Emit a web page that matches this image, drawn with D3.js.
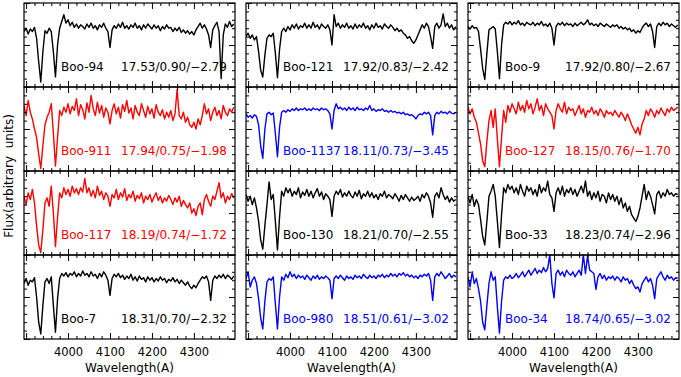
<!DOCTYPE html>
<html>
<head>
<meta charset="utf-8">
<script src="https://cdn.jsdelivr.net/npm/d3@7/dist/d3.min.js"></script>
<style>
  body { margin: 0; background: #fff; }
  text { font-family: "DejaVu Sans", sans-serif; }
</style>
</head>
<body>
<svg id="chart" width="681" height="377"></svg>
<script>
// wavelength grid (A), shared by every spectrum
var wave = [3895,3900,3905,3910,3915,3920,3925,3930,3935,3940,
  3945,3950,3955,3960,3965,3970,3975,3980,3985,3990,
  3995,4000,4005,4010,4015,4020,4025,4030,4035,4040,
  4045,4050,4055,4060,4065,4070,4075,4080,4085,4090,
  4095,4100,4105,4110,4115,4120,4125,4130,4135,4140,
  4145,4150,4155,4160,4165,4170,4175,4180,4185,4190,
  4195,4200,4205,4210,4215,4220,4225,4230,4235,4240,
  4245,4250,4255,4260,4265,4270,4275,4280,4285,4290,
  4295,4300,4305,4310,4315,4320,4325,4330,4335,4340,
  4345,4350,4355,4360,4365,4370,4375,4380,4385,4390,4395];

// star names and V / (B-V) / [Fe/H], column by column
var names = ["Boo-94", "Boo-911", "Boo-117", "Boo-7",
             "Boo-121", "Boo-1137", "Boo-130", "Boo-980",
             "Boo-9", "Boo-127", "Boo-33", "Boo-34"];
var params = ["17.53/0.90/\u22122.79", "17.94/0.75/\u22121.98", "18.19/0.74/\u22121.72", "18.31/0.70/\u22122.32",
              "17.92/0.83/\u22122.42", "18.11/0.73/\u22123.45", "18.21/0.70/\u22122.55", "18.51/0.61/\u22123.02",
              "17.92/0.80/\u22122.67", "18.15/0.76/\u22121.70", "18.23/0.74/\u22122.96", "18.74/0.65/\u22123.02"];

// normalised flux, one value per wavelength
var flux94 = [0.66,0.70,0.63,0.69,0.66,0.71,0.58,0.30,0.06,0.42,
  0.67,0.64,0.70,0.66,0.42,0.12,0.50,0.70,0.78,0.86,
  0.76,0.80,0.73,0.77,0.71,0.75,0.70,0.74,0.72,0.69,
  0.75,0.71,0.76,0.70,0.73,0.68,0.74,0.71,0.76,0.70,
  0.66,0.47,0.68,0.73,0.70,0.75,0.71,0.77,0.70,0.73,
  0.69,0.74,0.71,0.76,0.70,0.73,0.68,0.74,0.70,0.75,
  0.72,0.69,0.74,0.70,0.73,0.67,0.72,0.69,0.74,0.70,
  0.71,0.66,0.70,0.67,0.71,0.65,0.68,0.64,0.67,0.63,
  0.66,0.62,0.68,0.72,0.76,0.70,0.74,0.69,0.62,0.47,
  0.68,0.73,0.77,0.66,0.10,0.62,0.75,0.71,0.78,0.72,0.75];
var flux911 = [0.78,0.66,0.84,0.70,0.62,0.50,0.40,0.20,0.03,0.30,
  0.55,0.64,0.70,0.80,0.45,0.06,0.40,0.72,0.66,0.76,
  0.70,0.80,0.68,0.77,0.72,0.86,0.66,0.79,0.73,0.62,
  0.81,0.70,0.90,0.74,0.66,0.82,0.69,0.78,0.64,0.75,
  0.70,0.56,0.72,0.80,0.68,0.76,0.63,0.79,0.71,0.84,
  0.69,0.75,0.62,0.78,0.70,0.66,0.80,0.72,0.64,0.77,
  0.68,0.74,0.63,0.79,0.70,0.66,0.73,0.62,0.70,0.64,
  0.72,0.60,0.68,0.97,0.66,0.62,0.70,0.58,0.64,0.55,
  0.52,0.58,0.50,0.62,0.55,0.66,0.80,0.68,0.74,0.60,
  0.70,0.76,0.66,0.72,0.62,0.78,0.70,0.66,0.74,0.70,0.76];
var flux117 = [0.70,0.60,0.74,0.66,0.78,0.62,0.35,0.12,0.03,0.30,
  0.62,0.68,0.58,0.82,0.50,0.10,0.45,0.74,0.68,0.80,
  0.72,0.78,0.70,0.82,0.74,0.79,0.72,0.80,0.75,0.91,
  0.74,0.80,0.70,0.77,0.68,0.82,0.71,0.76,0.66,0.74,
  0.70,0.58,0.72,0.68,0.78,0.66,0.74,0.69,0.79,0.65,
  0.72,0.68,0.76,0.64,0.71,0.67,0.74,0.62,0.70,0.66,
  0.72,0.63,0.69,0.74,0.65,0.70,0.62,0.68,0.64,0.71,
  0.66,0.60,0.68,0.63,0.70,0.58,0.65,0.60,0.56,0.62,
  0.50,0.55,0.47,0.58,0.62,0.48,0.66,0.72,0.64,0.58,
  0.70,0.66,0.76,0.86,0.68,0.74,0.62,0.70,0.66,0.73,0.68];
var flux7 = [0.66,0.72,0.64,0.70,0.68,0.73,0.50,0.20,0.06,0.40,
  0.68,0.72,0.66,0.74,0.40,0.08,0.48,0.72,0.78,0.75,
  0.79,0.74,0.78,0.76,0.80,0.74,0.78,0.75,0.81,0.76,
  0.78,0.74,0.80,0.75,0.77,0.72,0.78,0.74,0.80,0.76,
  0.70,0.52,0.72,0.77,0.74,0.78,0.73,0.76,0.71,0.75,
  0.72,0.77,0.70,0.74,0.69,0.75,0.71,0.73,0.68,0.74,
  0.70,0.73,0.68,0.72,0.69,0.74,0.70,0.72,0.67,0.71,
  0.69,0.73,0.68,0.71,0.66,0.70,0.67,0.64,0.68,0.63,
  0.60,0.64,0.61,0.66,0.70,0.74,0.72,0.75,0.68,0.46,
  0.70,0.75,0.72,0.76,0.73,0.77,0.72,0.76,0.74,0.71,0.75];
var flux121 = [0.60,0.64,0.58,0.62,0.56,0.60,0.42,0.20,0.12,0.38,
  0.58,0.62,0.60,0.64,0.40,0.11,0.45,0.66,0.70,0.66,
  0.72,0.68,0.74,0.70,0.75,0.69,0.73,0.71,0.76,0.70,
  0.74,0.70,0.77,0.71,0.74,0.69,0.75,0.72,0.70,0.74,
  0.68,0.50,0.86,0.72,0.76,0.70,0.74,0.71,0.76,0.70,
  0.73,0.69,0.75,0.70,0.74,0.71,0.76,0.70,0.73,0.68,
  0.74,0.70,0.76,0.71,0.73,0.69,0.75,0.72,0.70,0.74,
  0.71,0.67,0.70,0.66,0.68,0.64,0.62,0.58,0.60,0.55,
  0.52,0.56,0.62,0.68,0.74,0.70,0.76,0.72,0.60,0.46,
  0.72,0.76,0.70,0.74,0.87,0.72,0.76,0.70,0.74,0.68,0.72];
var flux1137 = [0.68,0.64,0.66,0.63,0.67,0.65,0.55,0.30,0.15,0.50,
  0.68,0.70,0.67,0.69,0.45,0.17,0.52,0.70,0.72,0.70,
  0.73,0.71,0.74,0.72,0.75,0.72,0.74,0.73,0.75,0.72,
  0.74,0.72,0.75,0.73,0.74,0.72,0.75,0.73,0.74,0.72,
  0.68,0.50,0.72,0.80,0.74,0.76,0.73,0.75,0.72,0.76,
  0.73,0.75,0.72,0.76,0.73,0.74,0.72,0.75,0.73,0.78,
  0.72,0.74,0.71,0.73,0.72,0.74,0.71,0.72,0.70,0.72,
  0.70,0.71,0.69,0.70,0.68,0.70,0.67,0.68,0.66,0.67,
  0.65,0.62,0.66,0.68,0.67,0.70,0.68,0.70,0.66,0.43,
  0.66,0.70,0.68,0.71,0.69,0.70,0.68,0.71,0.69,0.68,0.70];
var flux130 = [0.72,0.64,0.70,0.60,0.68,0.56,0.40,0.18,0.07,0.35,
  0.60,0.87,0.66,0.72,0.40,0.06,0.45,0.76,0.70,0.80,
  0.74,0.79,0.70,0.76,0.72,0.80,0.68,0.75,0.71,0.78,
  0.70,0.76,0.68,0.74,0.79,0.70,0.75,0.66,0.73,0.70,
  0.66,0.46,0.70,0.76,0.72,0.78,0.69,0.74,0.70,0.76,
  0.71,0.68,0.75,0.70,0.77,0.67,0.73,0.70,0.76,0.69,
  0.74,0.68,0.72,0.66,0.73,0.70,0.76,0.68,0.72,0.70,
  0.67,0.73,0.69,0.64,0.71,0.66,0.72,0.68,0.64,0.69,
  0.65,0.67,0.70,0.64,0.72,0.68,0.74,0.70,0.62,0.45,
  0.70,0.74,0.68,0.80,0.72,0.66,0.70,0.63,0.68,0.64,0.66];
var flux980 = [0.72,0.80,0.62,0.70,0.74,0.66,0.48,0.25,0.12,0.45,
  0.68,0.72,0.70,0.74,0.42,0.12,0.50,0.74,0.70,0.77,
  0.73,0.80,0.74,0.77,0.72,0.76,0.73,0.75,0.71,0.76,
  0.73,0.70,0.75,0.72,0.76,0.71,0.74,0.72,0.75,0.73,
  0.70,0.48,0.72,0.75,0.72,0.76,0.73,0.70,0.75,0.72,
  0.74,0.71,0.76,0.73,0.75,0.72,0.77,0.74,0.72,0.76,
  0.73,0.75,0.72,0.76,0.74,0.77,0.73,0.76,0.74,0.78,
  0.75,0.77,0.74,0.78,0.76,0.79,0.75,0.77,0.74,0.76,
  0.73,0.75,0.72,0.76,0.74,0.77,0.75,0.78,0.70,0.46,
  0.74,0.78,0.75,0.80,0.76,0.72,0.75,0.78,0.73,0.76,0.74];
var flux9 = [0.72,0.69,0.73,0.70,0.71,0.66,0.45,0.22,0.09,0.40,
  0.68,0.70,0.72,0.69,0.42,0.10,0.50,0.74,0.77,0.75,
  0.78,0.74,0.77,0.75,0.79,0.74,0.76,0.73,0.77,0.75,
  0.74,0.77,0.73,0.76,0.74,0.78,0.73,0.75,0.72,0.76,
  0.70,0.50,0.72,0.76,0.74,0.77,0.73,0.76,0.74,0.75,
  0.72,0.76,0.73,0.75,0.77,0.74,0.76,0.80,0.74,0.76,
  0.73,0.75,0.72,0.76,0.74,0.72,0.75,0.73,0.71,0.74,
  0.72,0.74,0.70,0.72,0.69,0.71,0.68,0.70,0.66,0.68,
  0.64,0.67,0.65,0.70,0.74,0.76,0.72,0.75,0.66,0.47,
  0.72,0.76,0.73,0.77,0.74,0.76,0.72,0.75,0.73,0.71,0.74];
var flux127 = [0.76,0.68,0.74,0.64,0.58,0.45,0.32,0.12,0.05,0.35,
  0.60,0.72,0.52,0.74,0.38,0.05,0.40,0.72,0.58,0.78,
  0.70,0.80,0.74,0.68,0.82,0.72,0.78,0.70,0.84,0.74,
  0.80,0.68,0.76,0.86,0.72,0.78,0.66,0.80,0.74,0.70,
  0.66,0.50,0.72,0.80,0.74,0.70,0.82,0.68,0.76,0.72,
  0.74,0.66,0.72,0.78,0.68,0.74,0.64,0.72,0.70,0.76,
  0.68,0.72,0.66,0.74,0.70,0.64,0.72,0.68,0.70,0.66,
  0.72,0.68,0.64,0.70,0.66,0.60,0.68,0.62,0.55,0.50,
  0.45,0.52,0.43,0.56,0.62,0.72,0.66,0.74,0.70,0.64,
  0.72,0.68,0.75,0.70,0.66,0.74,0.70,0.76,0.72,0.74,0.76];
var flux33 = [0.70,0.62,0.72,0.58,0.66,0.60,0.42,0.22,0.12,0.40,
  0.70,0.76,0.84,0.70,0.40,0.09,0.48,0.80,0.74,0.84,
  0.78,0.82,0.74,0.80,0.72,0.84,0.76,0.70,0.82,0.76,
  0.80,0.72,0.78,0.70,0.84,0.74,0.80,0.76,0.88,0.72,
  0.68,0.52,0.74,0.80,0.72,0.82,0.70,0.78,0.74,0.80,
  0.72,0.78,0.70,0.76,0.82,0.74,0.88,0.70,0.76,0.66,
  0.74,0.68,0.76,0.64,0.72,0.70,0.62,0.74,0.66,0.72,
  0.64,0.70,0.60,0.68,0.56,0.62,0.52,0.58,0.48,0.44,
  0.40,0.46,0.56,0.70,0.84,0.66,0.76,0.70,0.60,0.49,
  0.72,0.76,0.68,0.74,0.70,0.78,0.72,0.74,0.70,0.73,0.72];
var flux34 = [0.74,0.62,0.80,0.66,0.72,0.60,0.45,0.20,0.11,0.40,
  0.66,0.80,0.70,0.74,0.38,0.07,0.45,0.70,0.74,0.72,
  0.76,0.72,0.74,0.78,0.73,0.76,0.80,0.74,0.78,0.82,
  0.76,0.80,0.84,0.78,0.82,0.79,0.85,0.80,0.84,1.00,
  0.66,0.49,0.78,0.82,0.76,0.80,0.74,0.82,0.78,0.76,
  0.80,0.74,0.78,0.82,0.76,1.00,0.78,0.99,0.82,0.80,
  0.78,0.59,0.74,0.78,0.72,0.76,0.70,0.74,0.72,0.75,
  0.70,0.74,0.72,0.68,0.74,0.70,0.72,0.66,0.70,0.64,
  0.60,0.62,0.56,0.66,0.70,0.74,0.68,0.72,0.64,0.48,
  0.72,0.76,0.80,0.74,0.70,0.76,0.72,0.74,0.70,0.73,0.72];

var spectra = [flux94, flux911, flux117, flux7,
               flux121, flux1137, flux130, flux980,
               flux9, flux127, flux33, flux34];

var xTicks = [4000, 4100, 4200, 4300];

(function() {
    'use strict';
    var colours = ["#000", "#ff0000", "#ff0000", "#000",
                   "#000", "#0000ff", "#000", "#0000ff",
                   "#000", "#ff0000", "#000", "#0000ff"];

    var svg = d3.select("#chart"),
        colLeft = [24, 246, 468],
        colWidth = 211,
        plotTop = 3,
        rowHeight = 84,
        nRows = 4;

    var majorX = [3900, 4000, 4100, 4200, 4300],
        minorX = d3.range(3900, 4400, 20).filter(function(v) { return v % 100 !== 0; }),
        majorY = [0, 0.5, 1],
        minorY = [0.1, 0.2, 0.3, 0.4, 0.6, 0.7, 0.8, 0.9];

    function strip(sel) {
        sel.select(".domain").remove();
        sel.selectAll(".tick line").attr("stroke", "#000").attr("stroke-width", 1);
    }

    colLeft.forEach(function(left, c) {
        var x = d3.scaleLinear().domain([3895, 4398]).range([left, left + colWidth]);

        for (var r = 0; r < nRows; r++) {
            var k = c * nRows + r,
                y0 = plotTop + r * rowHeight,
                y1 = y0 + rowHeight,
                y = d3.scaleLinear().domain([0, 1]).range([y1, y0]),
                g = svg.append("g");

            var clipId = "clip" + k;
            svg.append("clipPath").attr("id", clipId)
                .append("rect").attr("x", left).attr("y", y0).attr("width", colWidth).attr("height", rowHeight);

            var line = d3.line()
                .x(function(d, i) { return x(wave[i]); })
                .y(function(d) { return y(d); });

            g.append("path")
                .datum(spectra[k])
                .attr("clip-path", "url(#" + clipId + ")")
                .attr("fill", "none")
                .attr("stroke", colours[k])
                .attr("stroke-width", 1.4)
                .attr("stroke-linejoin", "round")
                .attr("d", line);

            // ticks on all four sides, pointing inward
            g.append("g").attr("transform", "translate(0," + y1 + ")")
                .call(d3.axisBottom(x).tickValues(minorX).tickSize(-3).tickFormat("")).call(strip);
            g.append("g").attr("transform", "translate(0," + y0 + ")")
                .call(d3.axisTop(x).tickValues(minorX).tickSize(-3).tickFormat("")).call(strip);
            g.append("g").attr("transform", "translate(0," + y0 + ")")
                .call(d3.axisTop(x).tickValues(majorX).tickSize(-6).tickFormat("")).call(strip);
            g.append("g").attr("transform", "translate(" + left + ",0)")
                .call(d3.axisLeft(y).tickValues(minorY).tickSize(-3).tickFormat("")).call(strip);
            g.append("g").attr("transform", "translate(" + left + ",0)")
                .call(d3.axisLeft(y).tickValues(majorY).tickSize(-6).tickFormat("")).call(strip);
            g.append("g").attr("transform", "translate(" + (left + colWidth) + ",0)")
                .call(d3.axisRight(y).tickValues(minorY).tickSize(-3).tickFormat("")).call(strip);
            g.append("g").attr("transform", "translate(" + (left + colWidth) + ",0)")
                .call(d3.axisRight(y).tickValues(majorY).tickSize(-6).tickFormat("")).call(strip);

            var bottomAxis = g.append("g").attr("transform", "translate(0," + y1 + ")")
                .call(d3.axisBottom(x).tickValues(majorX).tickSize(-6).tickPadding(9)
                    .tickFormat(r === nRows - 1 ? function(d) { return xTicks.indexOf(d) >= 0 ? d : ""; } : function() { return ""; }))
                .call(strip);
            bottomAxis.selectAll("text").attr("fill", "#000").style("font-size", "11.5px")
                .style("font-family", "'DejaVu Sans', sans-serif");

            g.append("rect")
                .attr("x", left).attr("y", y0)
                .attr("width", colWidth).attr("height", rowHeight)
                .attr("fill", "none").attr("stroke", "#000").attr("stroke-width", 1.2);

            g.append("text")
                .attr("x", left + 37).attr("y", y1 - 16)
                .attr("fill", colours[k]).style("font-size", "12px")
                .text(names[k]);
            g.append("text")
                .attr("x", left + colWidth - 8).attr("y", y1 - 16)
                .attr("text-anchor", "end")
                .attr("fill", colours[k]).style("font-size", "12px")
                .text(params[k]);
        }

        svg.append("text")
            .attr("x", left + colWidth / 2).attr("y", 372)
            .attr("text-anchor", "middle").style("font-size", "12px")
            .text("Wavelength(A)");
    });

    svg.append("text")
        .attr("transform", "translate(13,176) rotate(-90)")
        .attr("text-anchor", "middle").style("font-size", "12px")
        .style("white-space", "pre")
        .text("Flux(arbitrary  units)");
})();
</script>
</body>
</html>
